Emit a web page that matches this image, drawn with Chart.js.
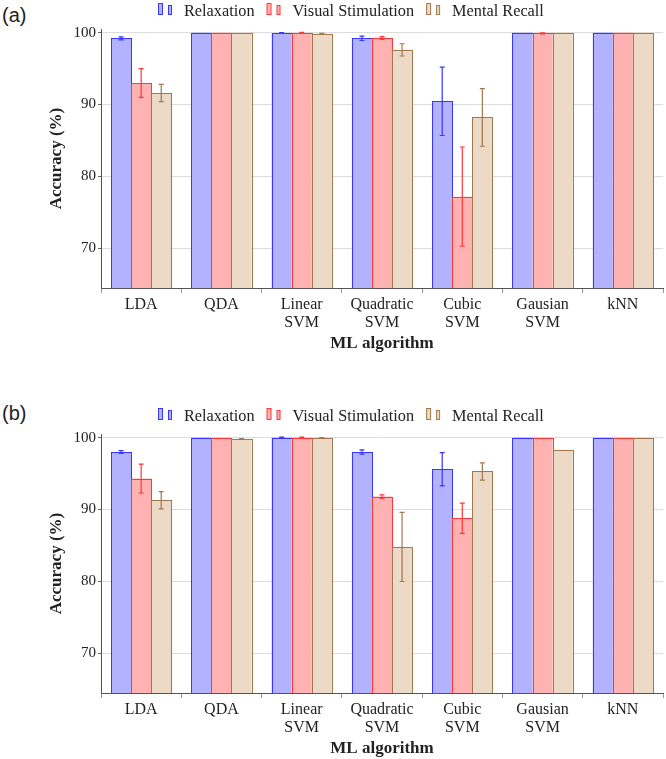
<!DOCTYPE html>
<html>
<head>
<meta charset="utf-8">
<script src="https://cdn.jsdelivr.net/npm/chart.js@4.4.1/dist/chart.umd.min.js"></script>
<style>
    body { margin: 0; background: #fff; width: 666px; height: 759px; position: relative; overflow: hidden; }
    .painel { position: absolute; left: 0; width: 666px; height: 354px; }
    .letra { position: absolute; left: 2px; font-family: "Liberation Sans", Arial, sans-serif; font-size: 20px; color: #222; line-height: 22px; }
</style>
</head>
<body>

<div class="letra" style="top: 4px;">(a)</div>
<div class="painel" style="top: 0px;"><canvas id="ChartA" width="666" height="354"></canvas></div>

<div class="letra" style="top: 402px;">(b)</div>
<div class="painel" style="top: 405px;"><canvas id="ChartB" width="666" height="354"></canvas></div>

<script>

/// DADOS

const algoritmos = ['LDA', 'QDA', ['Linear', 'SVM'], ['Quadratic', 'SVM'], ['Cubic', 'SVM'], ['Gausian', 'SVM'], 'kNN'];
const series_nomes = ['Relaxation', 'Visual Stimulation', 'Mental Recall'];
const y_ticks = [70, 80, 90, 100];
const y_min = 64.5;
const y_max = 100.5;

// painel (a)
const relax_a = [99.2, 100, 99.95, 99.2, 90.45, 100, 100];
const relax_a_erro = [0.2, 0, 0.06, 0.3, 4.75, 0, 0];
const visual_a = [93.0, 100, 99.95, 99.25, 77.2, 99.9, 100];
const visual_a_erro = [2.0, 0, 0.07, 0.2, 6.9, 0.07, 0];
const mental_a = [91.6, 100, 99.85, 97.6, 88.2, 100, 100];
const mental_a_erro = [1.2, 0, 0.05, 0.85, 4.0, 0, 0];

// painel (b)
const relax_b = [98.0, 100, 100, 98.0, 95.6, 100, 100];
const relax_b_erro = [0.2, 0, 0.06, 0.3, 2.3, 0, 0];
const visual_b = [94.3, 100, 100, 91.8, 88.8, 100, 100];
const visual_b_erro = [2.0, 0, 0.06, 0.25, 2.1, 0, 0];
const mental_b = [91.3, 99.8, 99.95, 84.8, 95.3, 98.3, 100];
const mental_b_erro = [1.2, 0.05, 0.05, 4.8, 1.2, 0, 0];

const cores_fundo = ['rgb(178, 178, 255)', 'rgb(255, 178, 178)', 'rgb(236, 217, 198)'];
const cores_borda = ['rgb(55, 55, 255)', 'rgb(255, 55, 55)', 'rgb(160, 120, 80)'];

const fonte_serif = '"Liberation Serif", "Times New Roman", serif';


/// PLUGIN CONTORNO + BARRAS DE ERRO

const barrasErro = {
    id: 'barrasErro',
    afterDatasetsDraw(chart) {
        const ctx = chart.ctx;
        const y = chart.scales.y;

        // contorno das barras (na ordem das séries, como no pgfplots)
        chart.data.datasets.forEach((ds, i) => {
            const meta = chart.getDatasetMeta(i);
            ctx.save();
            ctx.strokeStyle = ds.borderColor;
            ctx.lineWidth = 1;
            meta.data.forEach((bar) => {
                const x0 = Math.round(bar.x - bar.width / 2) + 0.5;
                const x1 = Math.round(bar.x + bar.width / 2) + 0.5;
                const y0 = Math.round(bar.y) + 0.5;
                const y1 = Math.round(bar.base) + 0.5;
                ctx.strokeRect(x0, y0, x1 - x0, y1 - y0);
            });
            ctx.restore();
        });

        chart.data.datasets.forEach((ds, i) => {
            const meta = chart.getDatasetMeta(i);
            ctx.save();
            ctx.strokeStyle = ds.borderColor;
            ctx.lineWidth = 1.2;
            meta.data.forEach((bar, j) => {
                const e = ds.erros[j];
                if (!e) return;
                const yTop = y.getPixelForValue(ds.data[j] + e);
                const yBot = y.getPixelForValue(ds.data[j] - e);
                ctx.beginPath();
                ctx.moveTo(bar.x, yTop); ctx.lineTo(bar.x, yBot);
                ctx.moveTo(bar.x - 2.5, yTop); ctx.lineTo(bar.x + 2.5, yTop);
                ctx.moveTo(bar.x - 2.5, yBot); ctx.lineTo(bar.x + 2.5, yBot);
                ctx.stroke();
            });
            ctx.restore();
        });
    }
};


/// PLUGIN LEGENDA (estilo pgfplots)

const legendaBarras = {
    id: 'legendaBarras',
    afterDraw(chart) {
        const ctx = chart.ctx;
        ctx.save();
        ctx.font = '16.3px ' + fonte_serif;
        ctx.textBaseline = 'alphabetic';
        let x = 158;
        chart.data.datasets.forEach((ds) => {
            ctx.fillStyle = ds.backgroundColor;
            ctx.strokeStyle = ds.borderColor;
            ctx.lineWidth = 1;
            ctx.fillRect(x + 0.5, 3.5, 4, 11);
            ctx.strokeRect(x + 0.5, 3.5, 4, 11);
            ctx.fillRect(x + 10.5, 5.5, 3, 9);
            ctx.strokeRect(x + 10.5, 5.5, 3, 9);
            ctx.fillStyle = '#222';
            ctx.fillText(ds.label, x + 26, 16);
            x += 26 + ctx.measureText(ds.label).width + 12;
        });
        ctx.restore();
    }
};


function montaGrafico(canvas, valores, erros) {

    new Chart(canvas, {
        type: 'bar',
        data: {
            labels: algoritmos,
            datasets: series_nomes.map((nome, i) => ({
                label: nome,
                data: valores[i],
                erros: erros[i],
                base: y_min,
                backgroundColor: cores_fundo[i],
                borderColor: cores_borda[i],
                borderWidth: 0,
                inflateAmount: 0,
                categoryPercentage: 0.75,
                barPercentage: 1.0
            }))
        },
        options: {
            responsive: false,
            animation: false,
            devicePixelRatio: 1,
            layout: {
                padding: { top: 29, right: 3, left: 0, bottom: 0 }
            },
            plugins: {
                legend: { display: false },
                tooltip: { enabled: false }
            },
            scales: {
                x: {
                    grid: {
                        display: true,
                        drawOnChartArea: false,
                        drawTicks: true,
                        tickLength: 5,
                        color: '#999'
                    },
                    border: { color: '#555', width: 1, z: 1 },
                    ticks: {
                        color: '#222',
                        font: { family: fonte_serif, size: 16, lineHeight: 1.1 },
                        padding: 3,
                        maxRotation: 0,
                        autoSkip: false
                    },
                    title: {
                        display: true,
                        text: 'ML algorithm',
                        color: '#222',
                        font: { family: fonte_serif, size: 17, weight: 'bold' },
                        padding: { top: 0, bottom: 0 }
                    },
                    afterFit(scale) { scale.height = 66; }
                },
                y: {
                    min: y_min,
                    max: y_max,
                    afterBuildTicks(scale) {
                        scale.ticks = y_ticks.map(v => ({ value: v }));
                    },
                    grid: {
                        color: '#dcdcdc',
                        tickColor: '#666',
                        tickLength: 3
                    },
                    border: { color: '#555', width: 1 },
                    ticks: {
                        color: '#222',
                        font: { family: fonte_serif, size: 15 },
                        padding: 2
                    },
                    title: {
                        display: true,
                        text: 'Accuracy (%)',
                        color: '#222',
                        font: { family: fonte_serif, size: 17, weight: 'bold' },
                        padding: { top: 46, bottom: 0 }
                    },
                    afterFit(scale) { scale.width = 101; }
                }
            }
        },
        plugins: [barrasErro, legendaBarras]
    });
}

montaGrafico(document.getElementById('ChartA'),
    [relax_a, visual_a, mental_a],
    [relax_a_erro, visual_a_erro, mental_a_erro]);

montaGrafico(document.getElementById('ChartB'),
    [relax_b, visual_b, mental_b],
    [relax_b_erro, visual_b_erro, mental_b_erro]);

</script>
</body>
</html>
